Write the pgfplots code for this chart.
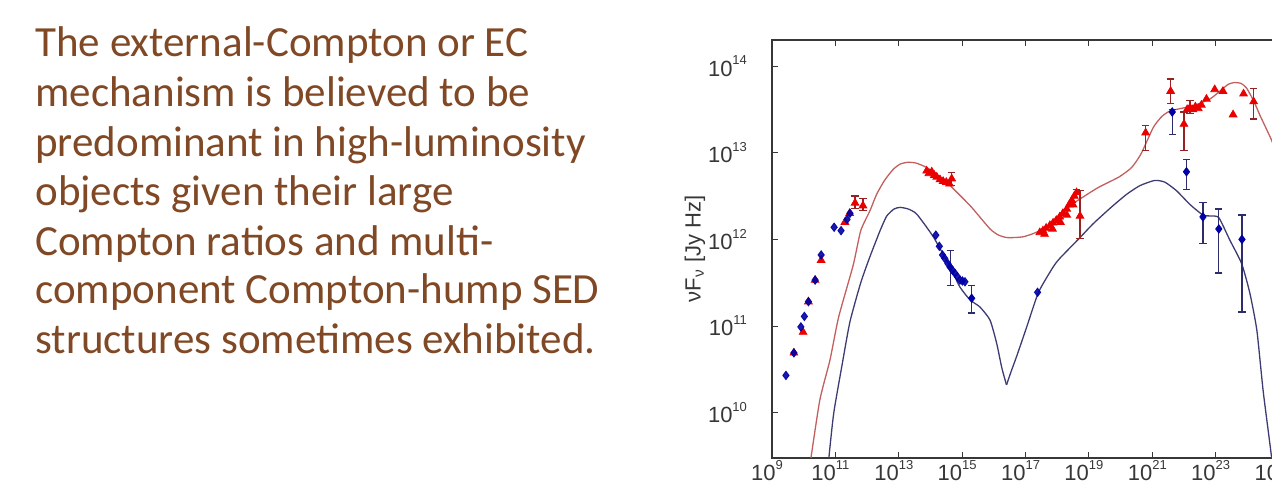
\documentclass[border=0pt]{standalone}
\usepackage{fontspec}
\setmainfont{Carlito}
\newfontfamily\axfont{Liberation Sans}
\usepackage{pgfplots}
\pgfplotsset{compat=1.18}
\definecolor{txtbrown}{RGB}{128,72,36}
\definecolor{mred}{RGB}{235,0,0}
\definecolor{mblue}{RGB}{0,0,165}
\definecolor{cred}{RGB}{195,95,95}
\definecolor{cblue}{RGB}{60,60,115}
\definecolor{ebred}{RGB}{150,35,35}
\definecolor{ebblue}{RGB}{45,45,110}
\definecolor{axgray}{RGB}{55,55,55}
\newcommand\pw[1]{10\raisebox{5.6pt}{\fontsize{6.5}{7}\selectfont #1}}
\begin{document}
\begin{tikzpicture}
\useasboundingbox (0,0) rectangle (636pt,241pt);
\clip (0,0) rectangle (636pt,241pt);
\begin{scope}[every node/.style={anchor=base west, inner sep=0pt, font=\fontsize{21.5}{24}\selectfont, text=txtbrown}]
\node at (17.5pt,212.5pt) {The external-Compton or EC};
\node at (17.5pt,187.5pt) {mechanism is believed to be};
\node at (17.5pt,162.5pt) {predominant in high-luminosity};
\node at (17.5pt,138pt) {objects given their large};
\node at (17.5pt,113.5pt) {Compton ratios and multi-};
\node at (17.5pt,89pt) {component Compton-hump SED};
\node at (17.5pt,64.5pt) {structures sometimes exhibited.};
\end{scope}
\begin{axis}[
  at={(386pt,12pt)}, anchor=south west,
  scale only axis, width=253.5pt, height=209pt,
  xmode=log, ymode=log, log basis x=10, log basis y=10,
  xmin=1e9, xmax=1e25, ymin=3e9, ymax=2e14,
  xtick={1e9,1e11,1e13,1e15,1e17,1e19,1e21,1e23,1e25},
  xticklabels={\pw{9},\pw{11},\pw{13},\pw{15},\pw{17},\pw{19},\pw{21},\pw{23},\pw{25}},
  ytick={1e10,1e11,1e12,1e13,1e14},
  yticklabels={\pw{10},\pw{11},\pw{12},\pw{13},\pw{14}},
  xminorticks=false,
  major tick length=3pt, minor tick length=1.6pt,
  every tick/.style={axgray, line width=0.5pt},
  axis line style={axgray, line width=0.7pt},
  ticklabel style={font=\axfont\fontsize{11}{13}\selectfont, text=axgray},
  xticklabel style={yshift=2.5pt, xshift=-2.5pt},
  yticklabel style={xshift=-9pt},
  ylabel={νF\textsubscript{ν} [Jy Hz]},
  ylabel style={at={(axis description cs:-0.152,0.5)}, anchor=center, font=\axfont\fontsize{11}{13}\selectfont, text=axgray},
  clip=true,
]
% red model curve
\addplot[cred, line width=0.65pt, smooth, tension=0.35] coordinates {
(1.58e10,2.24e9) (1.70e10,3.02e9) (3.24e10,1.41e10) (6.76e10,4.07e10) (1.26e11,1.26e11)
(3.63e11,5.01e11) (6.31e11,1.26e12) (1.23e12,2.14e12) (2.00e12,3.31e12) (3.55e12,4.79e12)
(6.76e12,6.46e12) (1.12e13,7.41e12) (1.95e13,7.76e12) (3.55e13,7.59e12) (7.59e13,6.76e12)
(1.58e14,5.62e12) (3.24e14,4.57e12) (7.94e14,3.31e12) (2.00e15,2.34e12) (7.59e15,1.32e12)
(1.41e16,1.12e12) (2.51e16,1.05e12) (4.47e16,1.05e12) (8.32e16,1.07e12) (1.58e17,1.15e12)
(2.82e17,1.26e12) (5.89e17,1.48e12) (1.20e18,1.86e12) (2.82e18,2.51e12) (6.61e18,3.09e12)
(2.00e19,3.98e12) (8.91e19,5.25e12) (2.24e20,6.76e12) (4.47e20,9.77e12) (1.07e21,1.95e13)
(2.00e21,2.62e13) (3.55e21,3.02e13) (7.94e21,3.24e13) (1.91e22,3.47e13) (6.61e22,4.17e13)
(1.35e23,5.13e13) (2.51e23,6.17e13) (3.98e23,6.46e13) (6.31e23,6.31e13) (9.33e23,5.62e13)
(1.58e24,3.98e13) (2.45e24,2.75e13) (5.89e24,1.38e13) (1e25,7.94e12)
};
% blue model curve, left of the dip
\addplot[cblue, line width=0.65pt, smooth, tension=0.35] coordinates {
(5.75e10,2.00e9) (6.31e10,3.16e9) (8.91e10,1.00e10) (1.66e11,3.72e10) (2.88e11,1.12e11)
(6.31e11,3.16e11) (1.23e12,6.31e11) (2.57e12,1.26e12) (4.17e12,1.86e12) (7.08e12,2.24e12)
(1.10e13,2.34e12) (2.00e13,2.24e12) (3.72e13,1.95e12) (1.23e14,1.07e12) (4.17e14,4.79e11)
(8.51e14,2.82e11) (1.78e15,2.00e11) (3.63e15,1.66e11) (7.59e15,1.17e11) (1.23e16,6.31e10)
(1.78e16,3.31e10) (2.51e16,2.09e10)
};
% blue model curve, right of the dip
\addplot[cblue, line width=0.65pt, smooth, tension=0.35] coordinates {
(2.51e16,2.09e10) (3.55e16,3.02e10) (5.25e16,4.47e10) (1.07e17,9.55e10)
(2.57e17,2.45e11) (7.41e17,4.79e11) (1.20e18,6.03e11) (5.25e18,1.05e12) (1.35e19,1.51e12)
(5.01e19,2.34e12) (1.55e20,3.31e12) (4.07e20,4.17e12) (1.20e21,4.79e12) (2.51e21,4.57e12)
(5.89e21,3.63e12) (1.58e22,2.51e12) (3.98e22,1.91e12) (7.08e22,1.86e12) (1.26e23,1.78e12)
(2.82e23,9.77e11) (6.61e23,5.25e11) (1.20e24,2.40e11) (2.00e24,8.91e10) (3.16e24,1.78e10)
(5.75e24,3.16e9) (7.94e24,1e9)
};
% red triangles, no error bars
\addplot[only marks, mark=triangle*, mark size=2.2pt, color=mred] coordinates {
(4.90e9,4.90e10) (9.55e9,8.51e10) (1.41e10,1.91e11) (2.29e10,3.39e11) (3.55e10,5.75e11)
(2.00e11,1.58e12) (2.82e11,2.00e12)
(7.59e13,6.17e12) (8.91e13,5.75e12) (1.10e14,6.03e12) (1.32e14,5.50e12) (1.58e14,5.25e12)
(2.00e14,4.90e12) (2.51e14,4.68e12) (3.16e14,4.57e12) (3.98e14,4.37e12)
(2.82e17,1.20e12) (3.55e17,1.26e12) (4.47e17,1.35e12) (5.89e17,1.45e12) (7.41e17,1.55e12)
(9.33e17,1.66e12) (1.20e18,1.82e12) (1.51e18,2.00e12) (2.00e18,2.24e12) (2.40e18,2.51e12)
(2.88e18,2.82e12) (3.47e18,3.16e12)
(3.98e17,1.15e12) (7.08e17,1.32e12) (1.26e18,1.58e12) (2.00e18,1.91e12) (3.16e18,2.51e12)
(1.26e22,3.16e13) (1.91e22,3.16e13) (2.29e22,3.39e13) (2.82e22,3.24e13) (3.55e22,3.55e13)
(5.13e22,4.17e13) (9.33e22,5.37e13) (1.70e23,5.13e13) (3.55e23,2.75e13) (7.59e23,4.79e13)
};
% red triangles with error bars
\addplot[only marks, mark=triangle*, mark size=2.2pt, color=mred,
  error bars/.cd, y dir=both, y explicit,
  error bar style={ebred, line width=0.6pt},
  error mark options={ebred, rotate=90, mark size=1.8pt, line width=0.6pt}] coordinates {
(4.17e11,2.63e12) += (0,0.53e12) -= (0,0.34e12)
(7.41e11,2.45e12) += (0,0.50e12) -= (0,0.31e12)
(4.68e14,5.01e12) += (0,0.88e12) -= (0,0.84e12)
(4.07e18,3.47e12) += (0,0.33e12) -= (0,0.20e12)
(5.25e18,1.86e12) += (0,1.77e12) -= (0,0.84e12)
(6.17e20,1.70e13) += (0,0.34e13) -= (0,0.65e13)
(3.80e21,5.13e13) += (0,1.95e13) -= (0,1.41e13)
(1.00e22,2.14e13) += (0,0.81e13) -= (0,1.09e13)
(1.55e22,3.31e13) += (0,0.67e13) -= (0,0.49e13)
(1.58e24,3.89e13) += (0,1.61e13) -= (0,1.44e13)
};
% blue diamonds, no error bars
\addplot[only marks, mark=diamond*, mark size=2.1pt, color=mblue, opacity=0.9] coordinates {
(2.75e9,2.69e10) (4.90e9,4.90e10) (8.13e9,9.77e10) (1.05e10,1.29e11) (1.41e10,1.91e11)
(2.29e10,3.39e11) (3.55e10,6.61e11) (9.12e10,1.38e12) (1.51e11,1.26e12) (2.34e11,1.70e12)
(2.88e11,2.00e12)
(1.48e14,1.12e12) (1.91e14,8.32e11) (2.40e14,6.61e11) (2.82e14,6.03e11) (3.55e14,5.25e11)
(5.01e14,4.37e11) (5.89e14,4.07e11) (7.08e14,3.72e11) (8.51e14,3.39e11) (1.02e15,3.31e11)
(1.23e15,3.24e11)
(2.40e17,2.45e11)
};
% blue diamonds with error bars
\addplot[only marks, mark=diamond*, mark size=2.1pt, color=mblue,
  error bars/.cd, y dir=both, y explicit,
  error bar style={ebblue, line width=0.6pt},
  error mark options={ebblue, rotate=90, mark size=1.8pt, line width=0.6pt}] coordinates {
(4.17e14,4.79e11) += (0,2.62e11) -= (0,1.84e11)
(2.00e15,2.09e11) += (0,0.86e11) -= (0,0.68e11)
(4.27e21,2.95e13) += (0,0.21e13) -= (0,1.33e13)
(1.20e22,6.03e12) += (0,2.29e12) -= (0,2.23e12)
(3.98e22,1.82e12) += (0,0.87e12) -= (0,0.93e12)
(1.26e23,1.32e12) += (0,0.92e12) -= (0,0.91e12)
(6.76e23,1.00e12) += (0,0.91e12) -= (0,0.855e12)
};
\end{axis}
\end{tikzpicture}
\end{document}
